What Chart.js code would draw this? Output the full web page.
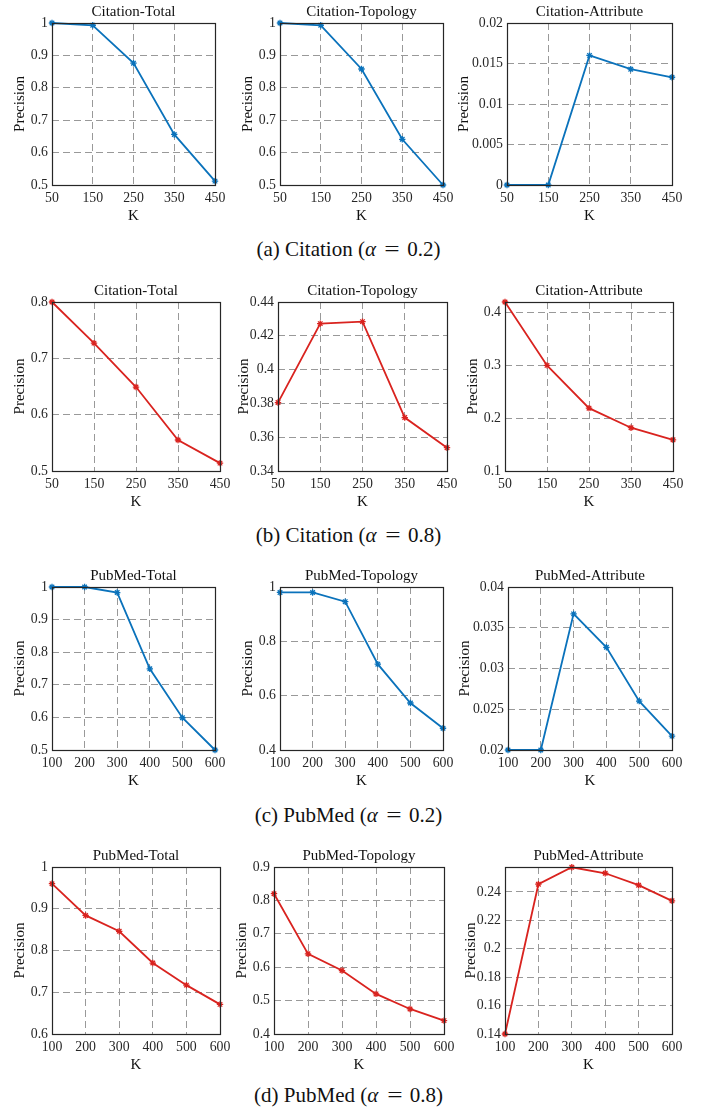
<!DOCTYPE html>
<html><head><meta charset="utf-8">
<script src="https://cdn.jsdelivr.net/npm/chart.js@4.4.0/dist/chart.umd.min.js"></script>
<style>
html,body{margin:0;padding:0;background:#fff;width:703px;height:1108px;overflow:hidden;position:relative;}
canvas{position:absolute;}
.cap{position:absolute;left:0;width:697px;text-align:center;font-family:'Liberation Serif','Times New Roman',serif;font-size:21px;color:#111;line-height:24px;white-space:nowrap;}
.cap i{font-style:italic;margin-right:1px;}
.cap .eq{display:inline-block;margin:0 4px;transform:scaleX(1.3);}
</style></head><body>
<script>
// ---- data ----
const citationK = [50, 150, 250, 350, 450];
const pubmedK = [100, 200, 300, 400, 500, 600];

const citTotal02 = [1.0, 0.993, 0.876, 0.656, 0.512];
const citTopo02  = [1.0, 0.993, 0.858, 0.641, 0.500];
const citAttr02  = [0, 0, 0.0160, 0.0143, 0.0133];

const citTotal08 = [0.800, 0.727, 0.649, 0.555, 0.514];
const citTopo08  = [0.3805, 0.4272, 0.4284, 0.3716, 0.3538];
const citAttr08  = [0.420, 0.300, 0.219, 0.182, 0.159];

const pubTotal02 = [1.0, 1.0, 0.983, 0.749, 0.599, 0.500];
const pubTopo02  = [0.980, 0.980, 0.946, 0.716, 0.573, 0.480];
const pubAttr02  = [0.020, 0.020, 0.0367, 0.0326, 0.0260, 0.0217];

const pubTotal08 = [0.960, 0.884, 0.846, 0.770, 0.717, 0.671];
const pubTopo08  = [0.82, 0.64, 0.59, 0.52, 0.475, 0.44];
const pubAttr08  = [0.140, 0.2454, 0.2573, 0.2531, 0.2447, 0.2337];

// y tick labels
const ticksHalfToOne = [0.5, 0.6, 0.7, 0.8, 0.9, 1];
const ticksCitAttr02 = [0, 0.005, 0.01, 0.015, 0.02];
const ticksCitTotal08 = [0.5, 0.6, 0.7, 0.8];
const ticksCitTopo08 = [0.34, 0.36, 0.38, 0.4, 0.42, 0.44];
const ticksCitAttr08 = [0.1, 0.2, 0.3, 0.4];
const ticksPubTopo02 = [0.4, 0.6, 0.8, 1];
const ticksPubAttr02 = [0.02, 0.025, 0.03, 0.035, 0.04];
const ticksPubTotal08 = [0.6, 0.7, 0.8, 0.9, 1];
const ticksPubTopo08 = [0.4, 0.5, 0.6, 0.7, 0.8, 0.9];
const ticksPubAttr08 = [0.14, 0.16, 0.18, 0.2, 0.22, 0.24];

const captions = [
  {html: '(a) Citation (<i>α</i> <span class="eq">=</span> 0.2)', y: 249},
  {html: '(b) Citation (<i>α</i> <span class="eq">=</span> 0.8)', y: 535},
  {html: '(c) PubMed (<i>α</i> <span class="eq">=</span> 0.2)', y: 815},
  {html: '(d) PubMed (<i>α</i> <span class="eq">=</span> 0.8)', y: 1095}
];

// ---- style ----
const BLUE = '#0a72bb', RED = '#d9231f';
const FONT = '"Liberation Serif", "Times New Roman", serif';
const GRID = '#999999', TICKC = '#262626', TITLEC = '#111';
const TOP = 22, RP = 16, XH = 40;

const panels = [
  {title:'Citation-Total', labels:citationK, values:citTotal02, color:BLUE, yticks:ticksHalfToOne, ymin:0.5, ymax:1, l:52, t:23, r:215, b:185, yw:41},
  {title:'Citation-Topology', labels:citationK, values:citTopo02, color:BLUE, yticks:ticksHalfToOne, ymin:0.5, ymax:1, l:280, t:23, r:443, b:185, yw:41},
  {title:'Citation-Attribute', labels:citationK, values:citAttr02, color:BLUE, yticks:ticksCitAttr02, ymin:0, ymax:0.02, l:507, t:23, r:672, b:185, yw:52},

  {title:'Citation-Total', labels:citationK, values:citTotal08, color:RED, yticks:ticksCitTotal08, ymin:0.5, ymax:0.8, l:52, t:302, r:220, b:471, yw:41},
  {title:'Citation-Topology', labels:citationK, values:citTopo08, color:RED, yticks:ticksCitTopo08, ymin:0.34, ymax:0.44, l:278, t:302, r:447, b:471, yw:43},
  {title:'Citation-Attribute', labels:citationK, values:citAttr08, color:RED, yticks:ticksCitAttr08, ymin:0.1, ymax:0.42, l:505, t:302, r:673, b:471, yw:41},

  {title:'PubMed-Total', labels:pubmedK, values:pubTotal02, color:BLUE, yticks:ticksHalfToOne, ymin:0.5, ymax:1, l:52, t:587, r:215, b:750, yw:41},
  {title:'PubMed-Topology', labels:pubmedK, values:pubTopo02, color:BLUE, yticks:ticksPubTopo02, ymin:0.4, ymax:1, l:280, t:587, r:443, b:750, yw:41},
  {title:'PubMed-Attribute', labels:pubmedK, values:pubAttr02, color:BLUE, yticks:ticksPubAttr02, ymin:0.02, ymax:0.04, l:508, t:587, r:672, b:750, yw:52},

  {title:'PubMed-Total', labels:pubmedK, values:pubTotal08, color:RED, yticks:ticksPubTotal08, ymin:0.6, ymax:1, l:52, t:867, r:220, b:1034, yw:41},
  {title:'PubMed-Topology', labels:pubmedK, values:pubTopo08, color:RED, yticks:ticksPubTopo08, ymin:0.4, ymax:0.9, l:274, t:867, r:444, b:1034, yw:41},
  {title:'PubMed-Attribute', labels:pubmedK, values:pubAttr08, color:RED, yticks:ticksPubAttr08, ymin:0.14, ymax:0.2575, l:505, t:867, r:672, b:1034, yw:43}
];

const fmt = v => String(parseFloat(Number(v).toFixed(4)));

const boxPlugin = {
  id: 'box',
  afterDraw(chart, args, opts) {
    const {ctx, chartArea: {left, top, right, bottom}} = chart;
    ctx.save();
    ctx.setLineDash([]);
    ctx.strokeStyle = '#262626';
    ctx.lineWidth = 1.2;
    ctx.strokeRect(Math.round(left) + 0.5, Math.round(top) + 0.5, Math.round(right - left), Math.round(bottom - top));
    ctx.fillStyle = TITLEC;
    ctx.font = '15px ' + FONT;
    ctx.textAlign = 'center';
    ctx.textBaseline = 'middle';
    ctx.fillText(opts.text, (left + right) / 2, top - 10.5);
    ctx.restore();
  }
};

function makeChart(p) {
  const cv = document.createElement('canvas');
  const W = (p.r - p.l) + p.yw + RP, H = (p.b - p.t) + TOP + XH;
  cv.width = W; cv.height = H;
  cv.style.left = (p.l - p.yw) + 'px';
  cv.style.top = (p.t - TOP) + 'px';
  cv.style.width = W + 'px';
  cv.style.height = H + 'px';
  document.body.appendChild(cv);
  new Chart(cv, {
    type: 'line',
    data: {
      labels: p.labels.map(String),
      datasets: [{
        data: p.values,
        borderColor: p.color,
        backgroundColor: p.color,
        borderWidth: 1.8,
        pointStyle: 'star',
        pointRadius: 3.2,
        pointBorderWidth: 1.3,
        pointHoverRadius: 3.2,
        tension: 0,
        fill: false,
        clip: false
      }]
    },
    options: {
      responsive: false,
      animation: false,
      devicePixelRatio: 1,
      events: [],
      layout: {padding: {left: 0, top: TOP, right: RP, bottom: 0}},
      plugins: {legend: {display: false}, tooltip: {enabled: false}, box: {text: p.title}},
      scales: {
        x: {
          type: 'category', offset: false,
          grid: {color: GRID, lineWidth: 1, drawTicks: false},
          border: {display: false, dash: [7, 4]},
          ticks: {padding: 5, color: TICKC, font: {family: FONT, size: 13.8}, maxRotation: 0, autoSkip: false},
          title: {display: true, text: 'K', color: TITLEC, font: {family: FONT, size: 15}, padding: {top: 0, bottom: 0}},
          afterFit(s) { s.height = XH; }
        },
        y: {
          type: 'linear', min: p.ymin, max: p.ymax,
          afterBuildTicks(s) { s.ticks = p.yticks.map(v => ({value: v})); },
          grid: {color: GRID, lineWidth: 1, drawTicks: false},
          border: {display: false, dash: [7, 4]},
          ticks: {padding: 4, color: TICKC, font: {family: FONT, size: 13.8}, callback: v => fmt(v)},
          title: {display: true, text: 'Precision', color: TITLEC, font: {family: FONT, size: 15}, padding: {top: 0, bottom: 0}},
          afterFit(s) { s.width = p.yw; }
        }
      }
    },
    plugins: [boxPlugin]
  });
}

panels.forEach(makeChart);

captions.forEach(c => {
  const d = document.createElement('div');
  d.className = 'cap';
  d.style.top = (c.y - 12) + 'px';
  d.innerHTML = c.html;
  document.body.appendChild(d);
});
</script>
</body></html>
